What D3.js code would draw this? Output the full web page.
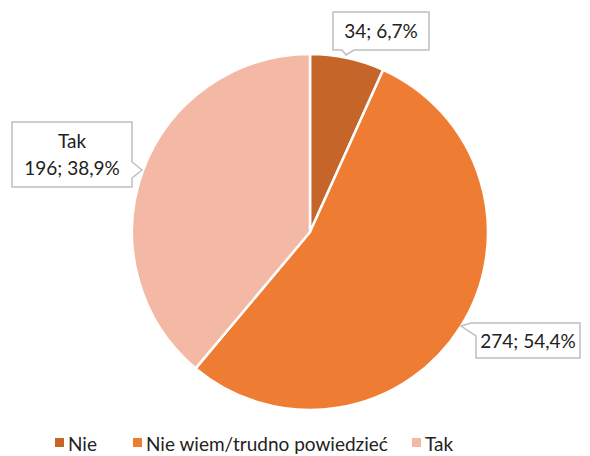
<!DOCTYPE html>
<html>
<head>
<meta charset="utf-8">
<script src="https://cdn.jsdelivr.net/npm/d3@7"></script>
<style>
  body { margin: 0; background: #fff; }
  text { font-family: "Lato", "Open Sans", sans-serif; fill: #222; }
</style>
</head>
<body>
<svg id="chart" width="590" height="456"></svg>
<script>
// Survey answers
const categories = ["Nie", "Nie wiem/trudno powiedzieć", "Tak"];
const values = [34, 274, 196];
const colors = ["#C5652A", "#EE7D33", "#F4B9A4"];

const svg = d3.select("#chart");
const cx = 310, cy = 232, r = 178;

const total = d3.sum(values);
const data = categories.map((c, i) => ({ name: c, value: values[i], color: colors[i] }));

const pie = d3.pie().value(d => d.value).sort(null);
const arc = d3.arc().innerRadius(0).outerRadius(r);
const arcs = pie(data);

const g = svg.append("g").attr("transform", `translate(${cx},${cy})`);
g.selectAll("path")
  .data(arcs)
  .join("path")
  .attr("d", arc)
  .attr("fill", d => d.data.color)
  .attr("stroke", "#fff")
  .attr("stroke-width", 2.5)
  .attr("stroke-linejoin", "round");

const fmtPct = v => (Math.round(v * 1000) / 10).toFixed(1).replace(".", ",") + "%";
const label = d => `${d.value}; ${fmtPct(d.value / total)}`;

// Callout boxes: rectangle with a pointer toward its slice
const callouts = [
  { idx: 0, box: [333, 12, 429, 50], ptr: [[342, 50], [346, 55], [354, 50]], side: "bottom",
    lines: [label(data[0])] },
  { idx: 2, box: [12, 122, 132, 187], ptr: [[132, 162], [142, 170], [132, 178]], side: "right",
    lines: ["Tak", label(data[2])] },
  { idx: 1, box: [476, 323, 580, 358], ptr: [[471, 323], [461, 326], [476, 336]], side: "topleft",
    lines: [label(data[1])] }
];

function calloutPath(c) {
  const [x0, y0, x1, y1] = c.box;
  const p = c.ptr;
  if (c.side === "bottom") {
    return `M${x0},${y0}L${x1},${y0}L${x1},${y1}L${p[2][0]},${y1}L${p[1][0]},${p[1][1]}L${p[0][0]},${y1}L${x0},${y1}Z`;
  }
  if (c.side === "right") {
    return `M${x0},${y0}L${x1},${y0}L${x1},${p[0][1]}L${p[1][0]},${p[1][1]}L${x1},${p[2][1]}L${x1},${y1}L${x0},${y1}Z`;
  }
  // pointer leaving the top-left corner
  return `M${p[0][0]},${y0}L${x1},${y0}L${x1},${y1}L${x0},${y1}L${x0},${p[2][1]}L${p[1][0]},${p[1][1]}Z`;
}

const cg = svg.append("g");
callouts.forEach(c => {
  cg.append("path")
    .attr("d", calloutPath(c))
    .attr("fill", "#fff")
    .attr("stroke", "#BFBFBF")
    .attr("stroke-width", 1.5);
  const [x0, y0, x1, y1] = c.box;
  const mx = (x0 + x1) / 2;
  const lh = 27;
  const startY = (y0 + y1) / 2 - (c.lines.length - 1) * lh / 2 + 7;
  c.lines.forEach((t, i) => {
    cg.append("text")
      .attr("x", mx)
      .attr("y", startY + i * lh)
      .attr("text-anchor", "middle")
      .attr("font-size", 19)
      .text(t);
  });
});

// Legend
const legendX = [55, 133, 412];
const lg = svg.append("g");
data.forEach((d, i) => {
  lg.append("rect")
    .attr("x", legendX[i]).attr("y", 438)
    .attr("width", 9).attr("height", 9)
    .attr("fill", d.color);
  lg.append("text")
    .attr("x", legendX[i] + 13).attr("y", 450.5)
    .attr("font-size", 19)
    .text(d.name);
});
</script>
</body>
</html>
